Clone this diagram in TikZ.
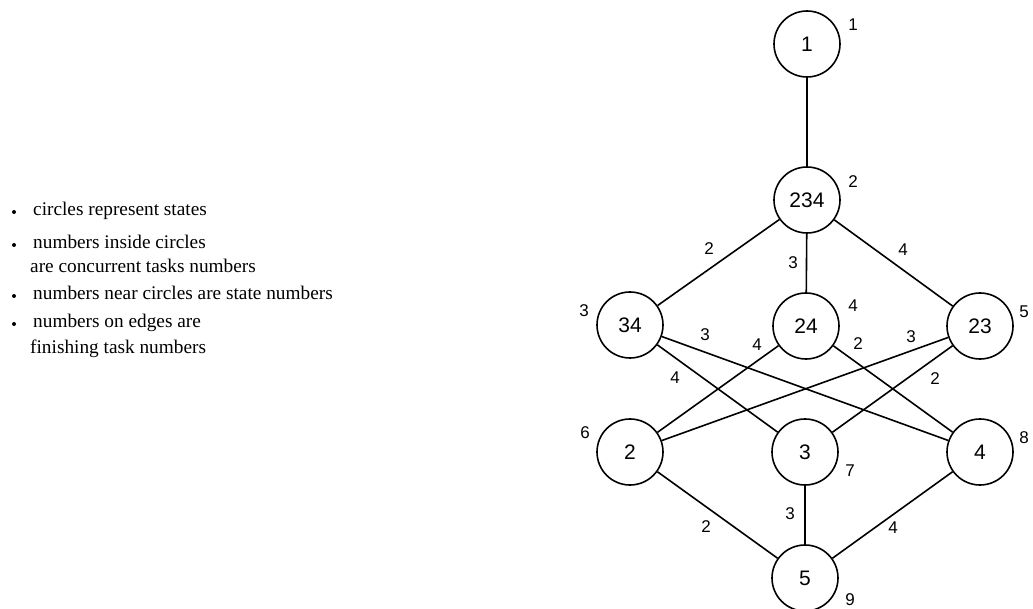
\documentclass[tikz,border=0pt]{standalone}
\usepackage{fontspec}
\setmainfont{Liberation Serif}
\newfontfamily\digitfont{Liberation Sans}
\begin{document}
\begin{tikzpicture}[x=1pt,y=-1pt,
  state/.style={draw, circle, minimum size=66pt, inner sep=0pt, line width=1.6pt,
                font=\digitfont\fontsize{21}{21}\selectfont},
  snum/.style={font=\digitfont\fontsize{17}{17}\selectfont, inner sep=0pt},
  tnum/.style={font=\digitfont\fontsize{17}{17}\selectfont, inner sep=0pt},
  edge/.style={line width=1.6pt},
  note/.style={anchor=base west, font=\fontsize{19.3}{19.3}\selectfont, inner sep=0pt},
  bullet/.style={circle, fill, inner sep=0pt, minimum size=4pt}]
\useasboundingbox (0,0) rectangle (1033,609);

% legend
\node[bullet] (b1) at (14,212) {};
\node[note] (t1) at (33,216) {circles represent states};
\node[bullet] (b2) at (14,245) {};
\node[note] (t2) at (33,249) {numbers inside circles};
\node[note] (t3) at (30,273) {are concurrent tasks numbers};
\node[bullet] (b3) at (14,296) {};
\node[note] (t4) at (33,300) {numbers near circles are state numbers};
\node[bullet] (b4) at (14,324) {};
\node[note] (t5) at (33,328) {numbers on edges are};
\node[note] (t6) at (30,353) {finishing task numbers};

% states
\node[state] (s1) at (807,44) {1};
\node[state] (s2) at (807,200) {234};
\node[state] (s3) at (630,325) {34};
\node[state] (s4) at (806,326) {24};
\node[state] (s5) at (980,326) {23};
\node[state] (s6) at (630,452) {2};
\node[state] (s7) at (805,452) {3};
\node[state] (s8) at (980,452) {4};
\node[state] (s9) at (805,578) {5};

% state numbers
\node[snum] (l1) at (853,25) {1};
\node[snum] (l2) at (853,182) {2};
\node[snum] (l3) at (584,311) {3};
\node[snum] (l4) at (853,306) {4};
\node[snum] (l5) at (1024,312) {5};
\node[snum] (l6) at (585,433) {6};
\node[snum] (l7) at (850,471) {7};
\node[snum] (l8) at (1024,438) {8};
\node[snum] (l9) at (850,600) {9};

% transitions
\draw[edge] (s1) -- (s2);
\draw[edge] (s2) -- (s3);
\draw[edge] (s2) -- (s4);
\draw[edge] (s2) -- (s5);
\draw[edge] (s3) -- (s7);
\draw[edge] (s3) -- (s8);
\draw[edge] (s4) -- (s6);
\draw[edge] (s4) -- (s8);
\draw[edge] (s5) -- (s6);
\draw[edge] (s5) -- (s7);
\draw[edge] (s6) -- (s9);
\draw[edge] (s7) -- (s9);
\draw[edge] (s8) -- (s9);

% finishing task numbers
\node[tnum] (e23) at (709,249) {2};
\node[tnum] (e24) at (793,263) {3};
\node[tnum] (e25) at (903,250) {4};
\node[tnum] (e38) at (705,335) {3};
\node[tnum] (e37) at (675,378) {4};
\node[tnum] (e46) at (757,345) {4};
\node[tnum] (e48) at (858,344) {2};
\node[tnum] (e56) at (911,337) {3};
\node[tnum] (e57) at (935,379) {2};
\node[tnum] (e69) at (706,527) {2};
\node[tnum] (e79) at (790,514) {3};
\node[tnum] (e89) at (893,528) {4};
\end{tikzpicture}
\end{document}
